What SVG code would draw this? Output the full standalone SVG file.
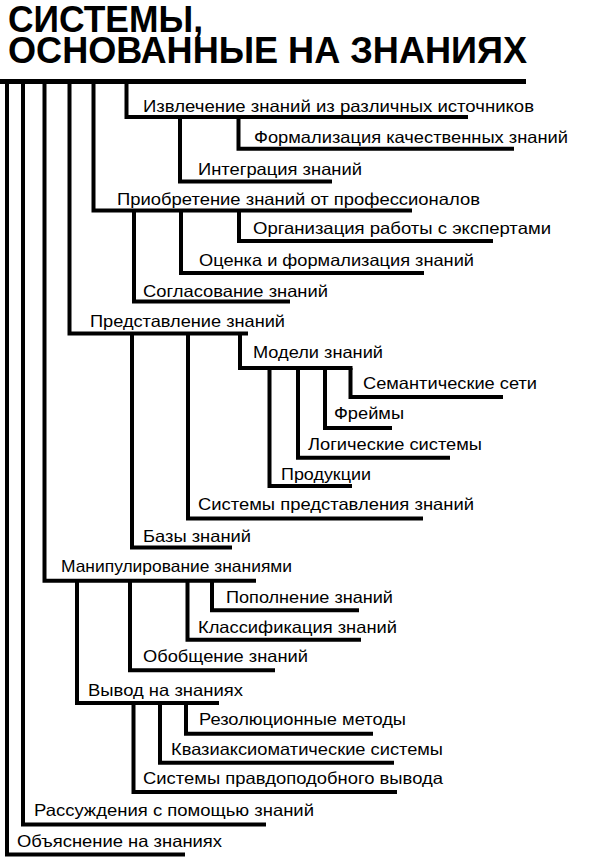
<svg xmlns="http://www.w3.org/2000/svg" width="604" height="857" viewBox="0 0 604 857">
<style>
.t{font-family:"Liberation Sans",Arial,sans-serif;font-size:16.5px;fill:#000}
.h{font-family:"Liberation Sans",Arial,sans-serif;font-size:37px;font-weight:bold;fill:#000}
.c{fill:none;stroke:#000;stroke-width:4;stroke-linejoin:miter;stroke-linecap:butt}
</style>
<rect width="604" height="857" fill="#fff"/>
<g id="title">
<text class="h" x="8" y="31.5" textLength="195" lengthAdjust="spacingAndGlyphs">СИСТЕМЫ,</text>
<text class="h" x="8" y="63" textLength="519" lengthAdjust="spacingAndGlyphs">ОСНОВАННЫЕ НА ЗНАНИЯХ</text>
<rect x="0" y="79" width="526" height="5" fill="#000"/>
</g>
<g id="connectors" class="c">
<path d="M7 82V854.5H185"/>
<path d="M23 82V824.5H266"/>
<path d="M44.5 82V580.8H256"/>
<path d="M69.5 82V333.5H248"/>
<path d="M93.5 82V210.5H412"/>
<path d="M126.5 82V117H468"/>
<path d="M180 117V181.5H332"/>
<path d="M238.5 117V148.7H514"/>
<path d="M134 210.5V301.5H290"/>
<path d="M181 210.5V273H424"/>
<path d="M239 210.5V241H493"/>
<path d="M132 333.5V547.5H232"/>
<path d="M188 333.5V518.5H423"/>
<path d="M240 333.5V368H352.5"/>
<path d="M269.5 368V486H352"/>
<path d="M298 368V457.7H450"/>
<path d="M325 368V428H392"/>
<path d="M350.5 368V397H503"/>
<path d="M77 580.8V703H219"/>
<path d="M130 580.8V670.3H275"/>
<path d="M187.5 580.8V639.7H361"/>
<path d="M212 580.8V610.3H359"/>
<path d="M133.5 703V792H397"/>
<path d="M160 703V762.7H394"/>
<path d="M186 703V733.7H373"/>
</g>
<g id="n1"><text class="t" x="143" y="112" textLength="391" lengthAdjust="spacingAndGlyphs">Извлечение знаний из различных источников</text></g>
<g id="n2"><text class="t" x="254" y="142.5" textLength="314" lengthAdjust="spacingAndGlyphs">Формализация качественных знаний</text></g>
<g id="n3"><text class="t" x="198" y="174.5" textLength="164" lengthAdjust="spacingAndGlyphs">Интеграция знаний</text></g>
<g id="n4"><text class="t" x="117" y="204.5" textLength="363" lengthAdjust="spacingAndGlyphs">Приобретение знаний от профессионалов</text></g>
<g id="n5"><text class="t" x="253" y="234" textLength="298" lengthAdjust="spacingAndGlyphs">Организация работы с экспертами</text></g>
<g id="n6"><text class="t" x="199" y="266" textLength="275" lengthAdjust="spacingAndGlyphs">Оценка и формализация знаний</text></g>
<g id="n7"><text class="t" x="143" y="296.5" textLength="185" lengthAdjust="spacingAndGlyphs">Согласование знаний</text></g>
<g id="n8"><text class="t" x="90" y="327" textLength="195" lengthAdjust="spacingAndGlyphs">Представление знаний</text></g>
<g id="n9"><text class="t" x="253" y="357.5" textLength="130" lengthAdjust="spacingAndGlyphs">Модели знаний</text></g>
<g id="n10"><text class="t" x="363" y="389" textLength="174" lengthAdjust="spacingAndGlyphs">Семантические сети</text></g>
<g id="n11"><text class="t" x="334" y="418.5" textLength="70" lengthAdjust="spacingAndGlyphs">Фреймы</text></g>
<g id="n12"><text class="t" x="308" y="450" textLength="174" lengthAdjust="spacingAndGlyphs">Логические системы</text></g>
<g id="n13"><text class="t" x="281" y="479.5" textLength="90" lengthAdjust="spacingAndGlyphs">Продукции</text></g>
<g id="n14"><text class="t" x="198" y="510" textLength="276" lengthAdjust="spacingAndGlyphs">Системы представления знаний</text></g>
<g id="n15"><text class="t" x="143" y="541.5" textLength="108" lengthAdjust="spacingAndGlyphs">Базы знаний</text></g>
<g id="n16"><text class="t" x="61" y="572" textLength="231" lengthAdjust="spacingAndGlyphs">Манипулирование знаниями</text></g>
<g id="n17"><text class="t" x="226" y="602.7" textLength="167" lengthAdjust="spacingAndGlyphs">Пополнение знаний</text></g>
<g id="n18"><text class="t" x="198" y="632.7" textLength="199" lengthAdjust="spacingAndGlyphs">Классификация знаний</text></g>
<g id="n19"><text class="t" x="143" y="662" textLength="165" lengthAdjust="spacingAndGlyphs">Обобщение знаний</text></g>
<g id="n20"><text class="t" x="88" y="695.5" textLength="155" lengthAdjust="spacingAndGlyphs">Вывод на знаниях</text></g>
<g id="n21"><text class="t" x="199" y="725" textLength="207" lengthAdjust="spacingAndGlyphs">Резолюционные методы</text></g>
<g id="n22"><text class="t" x="171" y="754.5" textLength="272" lengthAdjust="spacingAndGlyphs">Квазиаксиоматические системы</text></g>
<g id="n23"><text class="t" x="143" y="784" textLength="300" lengthAdjust="spacingAndGlyphs">Системы правдоподобного вывода</text></g>
<g id="n24"><text class="t" x="34" y="816" textLength="280" lengthAdjust="spacingAndGlyphs">Рассуждения с помощью знаний</text></g>
<g id="n25"><text class="t" x="17" y="847" textLength="205" lengthAdjust="spacingAndGlyphs">Объяснение на знаниях</text></g>
</svg>
